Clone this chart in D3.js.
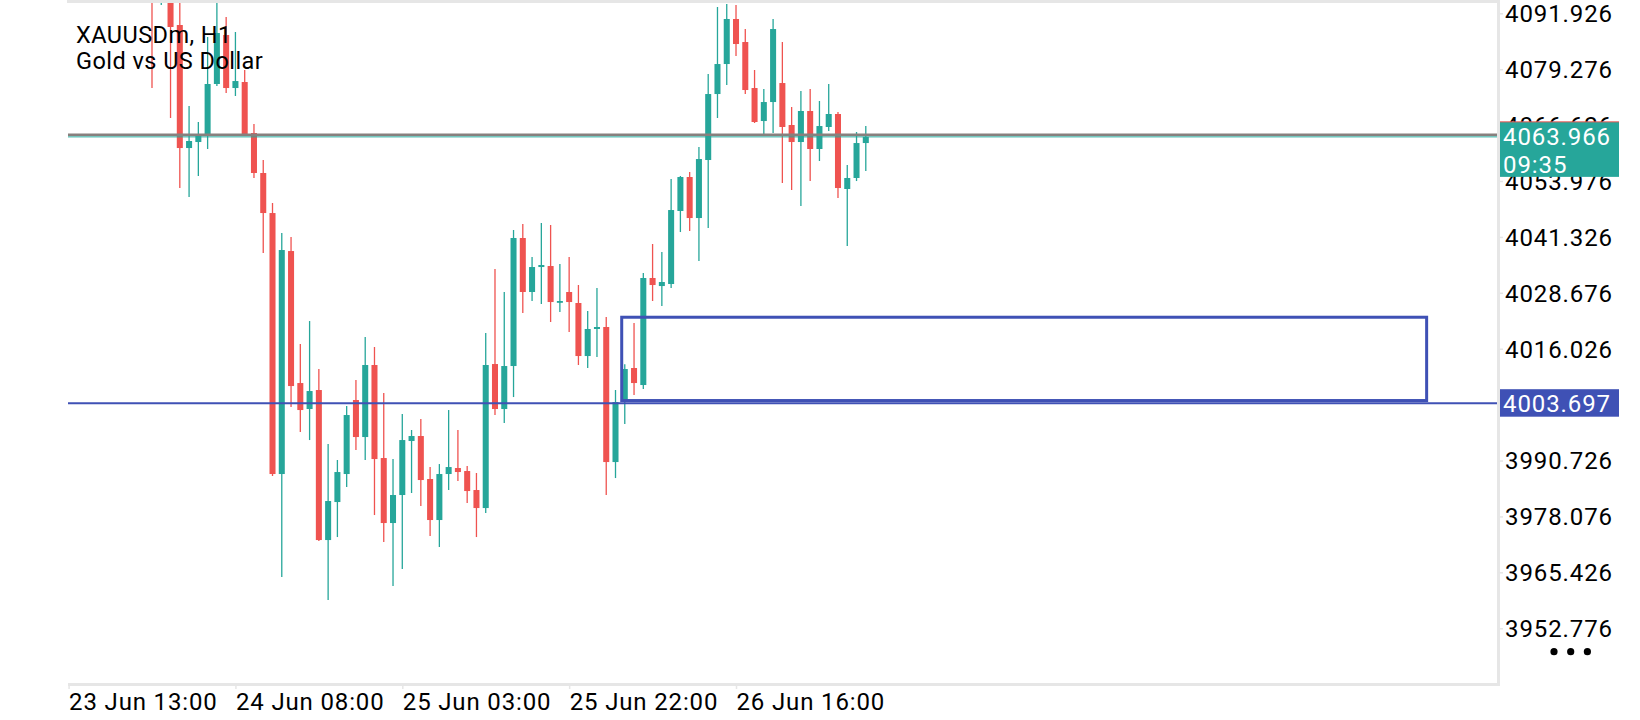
<!DOCTYPE html>
<html>
<head>
<meta charset="utf-8">
<script src="https://cdn.jsdelivr.net/npm/d3@7"></script>
<style>
  body { margin: 0; background: #fff; }
  text { font-family: Roboto, "Noto Sans", sans-serif; }
</style>
</head>
<body>
<div class="mainContainer"></div>
<script>
// H1 candles, left to right (bar index = position in arrays)
const opens = [4099, 4097.5, 4098, 4089.28, 4061.44, 4062.80, 4064.16, 4075.93, 4087.02, 4075.02,
  4076.38, 4064.84, 4055.79, 4046.73, 3987.67, 4038.13, 4008.26, 4002.38, 4006.68, 3972.73,
  3981.33, 3987.67, 4004.42, 3996.04, 4012.34, 3991.29, 3976.58, 3982.92, 3995.14, 3996.27,
  3986.54, 3977.26, 3987.67, 3989.03, 3988.35, 3984.05, 3979.97, 4012.56, 4002.38, 4012.11,
  4041.08, 4028.86, 4034.51, 4034.74, 4026.59, 4028.86, 4026.37, 4014.37, 4020.49, 4020.94,
  3990.38, 4004.42, 4011.66, 4007.81, 4032.03, 4030.21, 4030.67, 4047.19, 4054.88, 4045.60,
  4058.73, 4073.66, 4080.45, 4090.64, 4085.43, 4075.02, 4067.55, 4071.85, 4076.15, 4066.65,
  4062.80, 4069.82, 4061.22, 4066.20, 4069.14, 4052.17, 4054.66, 4062.57];
const highs = [4101, 4100, 4100, 4096, 4070.95, 4067.33, 4086.56, 4095, 4091.09, 4087.70,
  4079.10, 4066.87, 4058.73, 4049.00, 4042.21, 4041.30, 4017.09, 4022.29, 4011.43, 3994.46,
  3990.84, 4003.06, 4008.94, 4018.67, 4016.41, 4006.00, 3991.06, 4001.25, 3997.63, 4000.12,
  3989.25, 3989.93, 4002.15, 3997.63, 3989.48, 3987.90, 4019.58, 4034.06, 4028.86, 4042.89,
  4044.25, 4036.78, 4044.47, 4044.02, 4035.19, 4036.78, 4030.44, 4024.56, 4029.76, 4023.19,
  4006.68, 4012.50, 4021.84, 4033.16, 4039.72, 4037.91, 4054.43, 4055.11, 4056.01, 4061.67,
  4078.19, 4093.35, 4094.03, 4093.80, 4088.37, 4079.10, 4074.80, 4090.64, 4085.43, 4070.72,
  4074.34, 4074.80, 4072.08, 4075.93, 4069.60, 4057.60, 4065.06, 4066.42];
const lows = [4075.02, 4093.8, 4068.23, 4052.39, 4050.35, 4055.11, 4061.22, 4075.47, 4073.89, 4073.21,
  4064.16, 4054.66, 4037.68, 3987.22, 3964.36, 4002.83, 3997.17, 3995.36, 3972.50, 3959.16,
  3973.41, 3984.73, 3993.10, 3990.84, 3978.39, 3972.28, 3962.32, 3966.17, 3983.37, 3980.43,
  3973.64, 3971.15, 3984.05, 3986.09, 3981.11, 3973.41, 3978.84, 4001.02, 3999.21, 4005.09,
  4024.10, 4026.82, 4026.14, 4022.07, 4024.33, 4019.80, 4012.34, 4011.66, 4014.15, 3982.92,
  3986.76, 3998.99, 4005.55, 4006.91, 4026.82, 4025.69, 4029.76, 4042.43, 4042.66, 4035.87,
  4043.34, 4068.23, 4075.70, 4082.26, 4073.66, 4067.10, 4064.61, 4064.84, 4053.52, 4051.94,
  4048.32, 4053.97, 4058.50, 4065.29, 4050.13, 4039.27, 4053.97, 4056.24];
const closes = [4095.5, 4098.5, 4088.83, 4061.44, 4063.03, 4064.61, 4075.93, 4087.47, 4075.02, 4076.60,
  4064.61, 4055.79, 4046.73, 3987.67, 4038.36, 4007.58, 4002.15, 4006.45, 3972.73, 3981.56,
  3988.12, 4001.02, 3996.04, 4012.34, 3991.06, 3976.58, 3982.92, 3995.36, 3996.27, 3986.31,
  3977.26, 3987.67, 3989.25, 3988.12, 3983.82, 3979.97, 4012.34, 4002.38, 4012.11, 4041.08,
  4028.86, 4034.51, 4034.97, 4026.59, 4026.82, 4026.59, 4014.37, 4020.49, 4020.94, 3990.38,
  4003.96, 4011.43, 4008.26, 4032.03, 4030.44, 4031.12, 4047.41, 4054.88, 4045.60, 4058.95,
  4073.66, 4080.45, 4090.64, 4084.98, 4074.57, 4067.33, 4071.85, 4088.37, 4066.20, 4062.80,
  4069.82, 4061.22, 4066.42, 4069.14, 4052.39, 4054.66, 4062.57, 4063.966];

// time axis: bar index of each label
const timeTicks = [-9, 9, 27, 45, 63];
const timeLabels = ['23 Jun 13:00', '24 Jun 08:00', '25 Jun 03:00', '25 Jun 22:00', '26 Jun 16:00'];

const priceTicks = [4091.926, 4079.276, 4066.626, 4053.976, 4041.326, 4028.676, 4016.026,
  4003.376, 3990.726, 3978.076, 3965.426, 3952.776];

const lastPrice = 4063.966;
const bidLinePrice = 4064.45;
const countdown = '09:35';
const levelPrice = 4003.697;
// drawn zone: [from bar, to bar], [top price, bottom price]
const zoneBars = [50.67, 137.5];
const zonePrices = [4023.15, 4004.3];

const bull = '#26a69a', bear = '#ef5350', lineBlue = '#3f51b5', border = '#e6e6e6';

const svg = d3.select('.mainContainer')
  .append('svg')
  .attr('width', 1640)
  .attr('height', 720);

const plotLeft = 68, plotRight = 1497, plotTop = 3, plotBottom = 683;

const x = d3.scaleLinear()
  .domain([-9.061, 145.09])
  .range([plotLeft, plotRight]);

const y = d3.scaleLinear()
  .domain([3940.38, 4094.26])
  .range([plotBottom, plotTop]);

svg.append('defs').append('clipPath').attr('id', 'plot')
  .append('rect')
  .attr('x', plotLeft).attr('y', plotTop)
  .attr('width', plotRight - plotLeft).attr('height', plotBottom - plotTop);

// frame
svg.append('rect').attr('x', plotLeft - 1).attr('y', 0).attr('width', plotRight - plotLeft + 2).attr('height', 3).attr('fill', border);
svg.append('rect').attr('x', plotRight).attr('y', 0).attr('width', 3).attr('height', plotBottom + 3).attr('fill', border);
svg.append('rect').attr('x', plotLeft).attr('y', plotBottom).attr('width', plotRight - plotLeft + 3).attr('height', 3).attr('fill', border);

// axes
const yAxis = d3.axisRight(y)
  .tickValues(priceTicks)
  .tickFormat(d3.format('.3f'))
  .tickSize(5)
  .tickPadding(2);

const yAxisGroup = svg.append('g')
  .attr('transform', `translate(${plotRight + 1},0)`)
  .call(yAxis);
yAxisGroup.select('.domain').remove();
yAxisGroup.selectAll('line').attr('stroke', border).attr('stroke-width', 1.5);
yAxisGroup.selectAll('text')
  .attr('fill', '#000')
  .attr('font-size', 24)
  .attr('letter-spacing', 0.9)
  .attr('dy', '0.35em');

const xAxis = d3.axisBottom(x)
  .tickValues(timeTicks)
  .tickFormat((d, i) => timeLabels[i])
  .tickSize(5);

const xAxisGroup = svg.append('g')
  .attr('transform', `translate(0,${plotBottom + 1})`)
  .call(xAxis);
xAxisGroup.select('.domain').remove();
xAxisGroup.selectAll('line').attr('stroke', border).attr('stroke-width', 1.5);
xAxisGroup.selectAll('text')
  .attr('fill', '#000')
  .attr('font-size', 24)
  .attr('letter-spacing', 0.85)
  .attr('text-anchor', 'start')
  .attr('x', 0)
  .attr('y', 26)
  .attr('dy', 0);

// candles
const candles = opens.map((o, i) => ({ i, o, h: highs[i], l: lows[i], c: closes[i] }));
const bodyW = (x(1) - x(0)) * 0.65;

const graph = svg.append('g').attr('clip-path', 'url(#plot)');

const bars = graph.selectAll('g.candle')
  .data(candles)
  .enter()
  .append('g')
  .attr('class', 'candle');

bars.append('line')
  .attr('x1', d => x(d.i)).attr('x2', d => x(d.i))
  .attr('y1', d => y(d.h)).attr('y2', d => y(d.l))
  .attr('stroke', d => d.c >= d.o ? bull : bear)
  .attr('stroke-width', 1.3);

bars.append('rect')
  .attr('x', d => x(d.i) - bodyW / 2)
  .attr('width', bodyW)
  .attr('y', d => y(Math.max(d.o, d.c)))
  .attr('height', d => Math.max(1.8, Math.abs(y(d.o) - y(d.c))))
  .attr('fill', d => d.c >= d.o ? bull : bear);

// price lines: gray bid line with the teal last-price line just under it
graph.append('line')
  .attr('x1', plotLeft).attr('x2', plotRight)
  .attr('y1', y(bidLinePrice)).attr('y2', y(bidLinePrice))
  .attr('stroke', '#87807e').attr('stroke-width', 2.5);
graph.append('line')
  .attr('x1', plotLeft).attr('x2', plotRight)
  .attr('y1', y(lastPrice)).attr('y2', y(lastPrice))
  .attr('stroke', bull).attr('stroke-width', 1);

graph.append('line')
  .attr('x1', plotLeft).attr('x2', plotRight)
  .attr('y1', y(levelPrice)).attr('y2', y(levelPrice))
  .attr('stroke', lineBlue).attr('stroke-width', 2);

graph.append('rect')
  .attr('x', x(zoneBars[0]))
  .attr('y', y(zonePrices[0]))
  .attr('width', x(zoneBars[1]) - x(zoneBars[0]))
  .attr('height', y(zonePrices[1]) - y(zonePrices[0]))
  .attr('fill', 'none')
  .attr('stroke', lineBlue)
  .attr('stroke-width', 3);

// title
const title = svg.append('g').attr('font-size', 23.5).attr('fill', '#000').attr('letter-spacing', 0.45);
title.append('text').attr('x', 76).attr('y', 42.7).text('XAUUSDm, H1');
title.append('text').attr('x', 76).attr('y', 69.3).text('Gold vs US Dollar');

// price labels on the axis
const yl = y(lastPrice);
svg.append('rect').attr('x', 1500).attr('y', yl - 15).attr('width', 119).attr('height', 55).attr('fill', bull);
svg.append('line').attr('x1', 1500).attr('x2', 1619).attr('y1', yl - 15).attr('y2', yl - 15)
  .attr('stroke', bear).attr('stroke-width', 1);
svg.append('text').attr('x', 1503).attr('y', yl).attr('dy', '0.35em')
  .attr('font-size', 24).attr('letter-spacing', 0.9).attr('fill', '#fff')
  .text(d3.format('.3f')(lastPrice));
svg.append('text').attr('x', 1503).attr('y', yl + 27.5).attr('dy', '0.35em')
  .attr('font-size', 24).attr('letter-spacing', 0.9).attr('fill', '#fff')
  .text(countdown);

const yb = y(levelPrice);
svg.append('rect').attr('x', 1500).attr('y', yb - 14).attr('width', 119).attr('height', 27.5).attr('fill', lineBlue);
svg.append('text').attr('x', 1503).attr('y', yb).attr('dy', '0.35em')
  .attr('font-size', 24).attr('letter-spacing', 0.9).attr('fill', '#fff')
  .text(d3.format('.3f')(levelPrice));

// menu dots
svg.selectAll('circle.dot')
  .data([0, 1, 2])
  .enter()
  .append('circle')
  .attr('class', 'dot')
  .attr('cx', d => 1554 + d * 16.7)
  .attr('cy', 651.7)
  .attr('r', 3.6)
  .attr('fill', '#000');
</script>
</body>
</html>
